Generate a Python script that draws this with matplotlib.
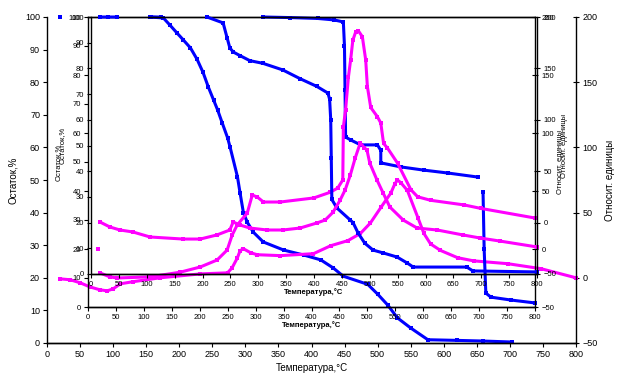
import numpy as np
import matplotlib.pyplot as plt

plt.rcParams['font.family'] = ['Liberation Sans', 'DejaVu Sans']

# ---- outer chart (layer 1) ----
T1_tg = [20, np.nan, 156, 176, 186, 197, 206, 217, 227, 236, 244, 252, 258, 265, 273, 277,
         288, 292, 297, 303, 312, 327, 358, 388, 414, 433, 448, 485, 500, 515, 530, 550, 576,
         620, 660, 703]
v1_tg = [100, np.nan, 100, 99.7, 97.5, 95, 93, 90.5, 87, 83, 78.5, 74.5, 71.5, 67.5, 63, 60,
         51, 46, 40, 37, 34, 31, 28.5, 27, 25.5, 23, 20.5, 18, 15, 11.7, 7.7, 4.6, 1,
         0.8, 0.6, 0.3]
T1_dta = [20, 35, 50, 65, 80, 91, 100, 111, 130, 171, 232, 273, 280, 288, 292, 297, 308, 318,
          353, 403, 429, 455, 474, 489, 505, 520, 526, 530, 535, 545, 561, 570, 580, 595, 621,
          645, 697, 747, 800]
v1_dta = [-0.8, -1.5, -3.8, -7, -9.2, -10, -8.5, -4.6, -3, 0, 3, 3.8, 7.7, 15.4, 20.8, 22.3,
          19.2, 17.7, 17, 18.5, 24.6, 28.5, 34, 42, 54, 65, 72, 75, 73, 67, 46, 34, 26, 21,
          15.4, 13, 10.8, 7, 0]

# ---- middle chart (layer 2) ----
T2_tg = [112, 130, np.nan, 314, 362, 411, 440, 457, 459, 460, 461, 470, 488, 518, 524, 524,
         560, 601, 644, 698, np.nan, 707, 709, 712, 721, 757, 800]
v2_tg = [100, 100, np.nan, 100, 99.8, 99.5, 99, 98.3, 90, 75, 58.6, 57.6, 55.9, 55.9, 54,
         49.7, 48.3, 47.2, 46.2, 44.8, np.nan, 39.7, 20, 4.8, 3.4, 2.4, 1.4]
T2_dta = [18, np.nan, 22, 39, 52, 111, 165, 201, 231, 249, 258, 267, 285, 294, 303, 314, 344,
          404, 434, 447, 456, 457, 461, 466, 470, 474, 479, 484, 491, 497, 500, 506, 518, 524,
          529, 536, 554, 578, 590, 613, 673, 703, 800]
v2_dta = [0, np.nan, -20.7, -24, -25, -24, -20, -15.5, -9.5, -0.9, 12, 20.7, 31, 46.5, 44.8,
          40.5, 40.5, 44, 49, 52.6, 59.5, 105, 120, 148, 163, 180, 187, 188, 183, 163, 140,
          122, 114, 108.6, 91, 87, 74, 51, 45, 42, 38, 35, 26.7]

# ---- inner chart (layer 3) ----
T3_tg = [16, 30, 46, np.nan, 208, 237, 244, 249, 255, 267, 285, 308, 344, 375, 405, 425, 428,
         430, 431, 432, 441, 465, 470, 479, 491, 506, 524, 549, 567, 578, 674, 685, 800]
v3_tg = [100, 100, 100, np.nan, 100, 97.7, 92, 88, 86.4, 85, 83, 82, 79.4, 76, 73, 70.4, 68,
         60, 45, 29, 25.7, 21, 20, 16, 12, 9.3, 8.2, 6.6, 4.3, 2.7, 2.7, 1.2, 0.8]
T3_dta = [16, 34, 52, 75, 106, 165, 196, 226, 249, 255, 267, 285, 316, 344, 375, 405, 420, 434,
          447, 456, 465, 474, 483, 490, 495, 500, 513, 524, 536, 560, 585, 621, 667, 698, 734, 800]
v3_dta = [0.6, -4.3, -7.2, -9.1, -14, -16, -16, -12, -7.2, 0.6, -2.3, -5.3, -7.2, -7.2, -5.3,
          -0.4, 2.5, 10, 22, 32, 46, 63, 77.5, 73, 70.6, 58, 41.4, 28.8, 15.2, 2.5, -5.3, -7.2,
          -12, -15, -18, -23.7]

xlab = 'Температура,°C'
ylab = 'Остаток,%'
ylab2 = 'Относит. единицы'

fig = plt.figure(figsize=(6.24, 3.9), dpi=100)


def px(x0, y0, x1, y1):
    return [x0 / 624, 1 - y1 / 390, (x1 - x0) / 624, (y1 - y0) / 390]


def layer(rect, Ttg, vtg, Tdta, vdta, fs, lfs, bold, ylx, y2x, xly, top=False):
    ax = fig.add_axes(rect)
    ax.set_facecolor('none')
    ax2 = ax.twinx()
    ax2.set_facecolor('none')
    ax.plot(Ttg, vtg, color='#0000FF', lw=2.2, marker='s', ms=3, mew=0, clip_on=False)
    ax2.plot(Tdta, vdta, color='#FF00FF', lw=2.2, marker='s', ms=3, mew=0, clip_on=False)
    ax.set_xlim(0, 800)
    ax.set_ylim(0, 100)
    ax2.set_ylim(-50, 200)
    ax.set_xticks(np.arange(0, 801, 50))
    ax.set_yticks(np.arange(0, 101, 10))
    ax2.set_yticks(np.arange(-50, 201, 50))
    for a in (ax, ax2):
        a.spines['top'].set_visible(top)
        for s in a.spines.values():
            s.set_linewidth(1.0)
    ax2.spines['left'].set_visible(False)
    ax.spines['right'].set_visible(False)
    ax.tick_params(axis='both', direction='out', length=3, width=0.8, labelsize=fs, pad=2)
    ax2.tick_params(axis='y', direction='inout', length=5, width=0.8, labelsize=fs, pad=2)
    ax.set_xlabel(xlab, fontsize=lfs, fontweight='bold' if bold else 'normal')
    ax.set_ylabel(ylab, fontsize=lfs)
    ax2.set_ylabel(ylab2, fontsize=lfs, rotation=90)
    ax.xaxis.set_label_coords(0.5, xly)
    ax.yaxis.set_label_coords(ylx, 0.5)
    ax2.yaxis.set_label_coords(y2x, 0.5)
    return ax, ax2


layer(px(47, 17, 576, 343), T1_tg, v1_tg, T1_dta, v1_dta, 6.5, 7, False, -0.055, 1.055, -0.06)
layer(px(88, 17, 535, 307), T2_tg, v2_tg, T2_dta, v2_dta, 5.5, 5.5, True, -0.058, 1.05, -0.05,
      top=True)
layer(px(91, 17, 537, 274), T3_tg, v3_tg, T3_dta, v3_dta, 5.5, 5.5, True, -0.056, 1.054, -0.055)

fig.savefig('out.png', dpi=100)
